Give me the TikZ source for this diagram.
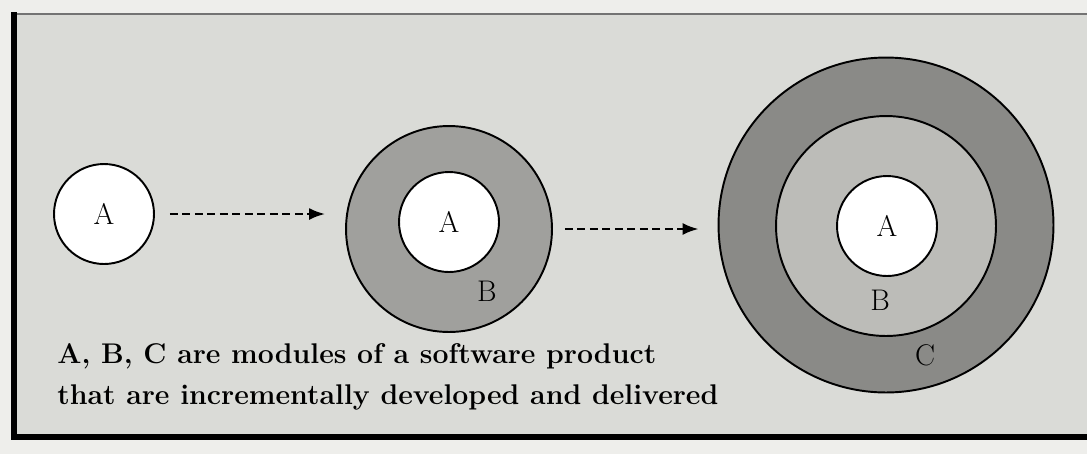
\documentclass[tikz,border=0pt]{standalone}
\usepackage{amsmath}
\usetikzlibrary{arrows.meta,positioning,backgrounds}
\definecolor{paper}{RGB}{218,219,215}
\definecolor{sheet}{RGB}{238,238,235}
\definecolor{ringmid}{RGB}{160,160,157}
\definecolor{ringlight}{RGB}{188,188,184}
\definecolor{ringdark}{RGB}{138,138,135}

\tikzset{
  module/.style={circle, draw=black, line width=1.1pt, fill=white, inner sep=0pt,
                 minimum size=2cm, font=\fontsize{17}{19}\selectfont},
  ring/.style={circle, draw=black, line width=1.1pt, inner sep=0pt},
  modlabel/.style={inner sep=0pt, font=\fontsize{17}{19}\selectfont},
  flow/.style={line width=1.3pt, dash pattern=on 1.6mm off 0.9mm,
               -{Latex[length=3.2mm,width=2.4mm]}},
}

\begin{document}
\begin{tikzpicture}[x=0.02cm, y=-0.02cm]
        \clip (0,0) rectangle (1087,454);
        \fill[sheet] (0,0) rectangle (1087,454);
        % frame of the figure
        \fill[paper] (14,14) rectangle (1100,437);
        \draw[line width=1.2pt, black!55] (14,14) -- (1100,14);
        \draw[line width=3pt] (14,12) -- (14,437) -- (1100,437);

        % first delivery: A only
        \node[module] (a1) at (104,214) {A};

        % second delivery: A + B
        \node[ring, fill=ringmid, minimum size=4.12cm] (b2) at (449,229) {};
        \node[module] (a2) at (449,222) {A};
        \node[modlabel] (lb2) at (487,291) {B};

        % third delivery: A + B + C
        \node[ring, fill=ringdark, minimum size=6.7cm] (c3) at (886,225) {};
        \node[ring, fill=ringlight, minimum size=4.4cm] (b3) at (886,226) {};
        \node[module] (a3) at (887,226) {A};
        \node[modlabel] (lb3) at (880,300) {B};
        \node[modlabel] (lc3) at (925,355) {C};

        \draw[flow, shorten <=0.3cm, shorten >=0.4cm] (a1.east) -- (a1.east -| b2.west);
        \draw[flow, shorten <=0.24cm, shorten >=0.38cm] (b2.east) -- (b2.east -| c3.west);

        \node[anchor=base west, align=left, inner sep=0pt,
              font=\fontsize{16.2}{22.8}\bfseries\selectfont] (note) at (57,404)
              {A, B, C are modules of a software product\\
               that are incrementally developed and delivered};
\end{tikzpicture}
\end{document}
